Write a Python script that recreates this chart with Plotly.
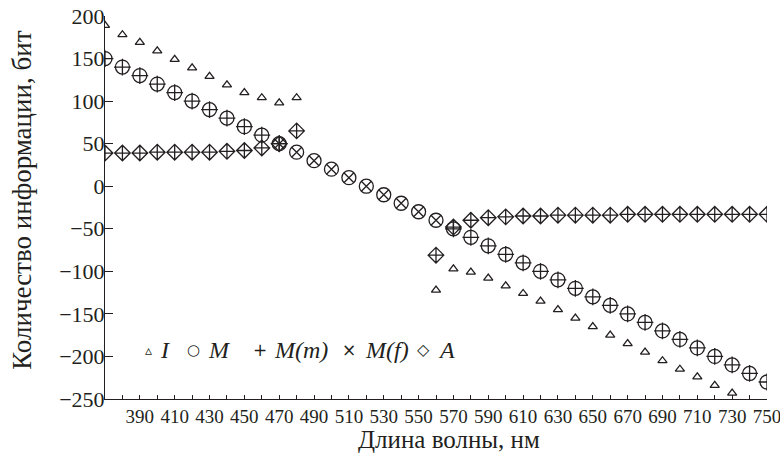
import plotly.graph_objects as go

# ---- data ----
wavelength = [370, 380, 390, 400, 410, 420, 430, 440, 450, 460,
              470, 480, 490, 500, 510, 520, 530, 540, 550, 560,
              570, 580, 590, 600, 610, 620, 630, 640, 650, 660,
              670, 680, 690, 700, 710, 720, 730, 740, 750]

I_vals = [189, 178, 169, 159, 149, 139, 129, 119, 110, 104,
          98, 104, None, None, None, None, None, None, None, -122,
          -97, -101, -108, -117, -126, -135, -145, -155, -165, -175,
          -185, -195, -205, -215, -224, -234, -243, None, None]

M_vals = [150, 140, 130, 120, 110, 100, 90, 80, 70, 60,
          50, 40, 30, 20, 10, 0, -10, -20, -30, -40,
          -50, -60, -70, -80, -90, -100, -110, -120, -130, -140,
          -150, -160, -170, -180, -190, -200, -210, -220, -230]

Mm_vals = [150, 140, 130, 120, 110, 100, 90, 80, 70, 60,
           50, None, None, None, None, None, None, None, None, None,
           -50, -60, -70, -80, -90, -100, -110, -120, -130, -140,
           -150, -160, -170, -180, -190, -200, -210, -220, -230]

Mf_vals = [None, None, None, None, None, None, None, None, None, None,
           50, 40, 30, 20, 10, 0, -10, -20, -30, -40,
           None, None, None, None, None, None, None, None, None, None,
           None, None, None, None, None, None, None, None, None]

A_vals = [39, 39, 39, 40, 40, 40, 40, 41, 42, 45,
          50, 65, None, None, None, None, None, None, None, -81,
          -48, -40, -37, -36, -35, -35, -34, -34, -34, -34,
          -33, -33, -33, -33, -33, -33, -33, -33, -33]

x_tick_vals = [390, 410, 430, 450, 470, 490, 510, 530, 550, 570,
               590, 610, 630, 650, 670, 690, 710, 730, 750]
x_tick_labels = [str(v) for v in x_tick_vals]

series_names = ["I", "M", "M(m)", "M(f)", "A"]
legend_glyphs = ["\u25b5", "\u25cb", "+", "\u00d7", "\u25c7"]
x_title = "Длина волны, нм"
y_title = "Количество информации, бит"

BLACK = "#231f20"
FONT = "Liberation Serif, Times New Roman, serif"

fig = go.Figure()

fig.add_trace(go.Scatter(x=wavelength, y=M_vals, mode="markers", name="M", showlegend=False,
                         marker=dict(symbol="circle-open", size=14, color=BLACK,
                                     line=dict(width=1.3, color=BLACK))))
fig.add_trace(go.Scatter(x=wavelength, y=Mm_vals, mode="markers", name="M(m)", showlegend=False,
                         marker=dict(symbol="cross-thin-open", size=12, color=BLACK,
                                     line=dict(width=1.3, color=BLACK))))
fig.add_trace(go.Scatter(x=wavelength, y=Mf_vals, mode="markers", name="M(f)", showlegend=False,
                         marker=dict(symbol="x-thin-open", size=10, color=BLACK,
                                     line=dict(width=1.3, color=BLACK))))
fig.add_trace(go.Scatter(x=wavelength, y=A_vals, mode="markers", name="A", showlegend=False,
                         marker=dict(symbol="diamond-cross-open", size=12, color=BLACK,
                                     line=dict(width=1.3, color=BLACK))))
fig.add_trace(go.Scatter(x=wavelength, y=I_vals, mode="markers", name="I", showlegend=False,
                         marker=dict(symbol="triangle-up-open", size=8, color=BLACK,
                                     line=dict(width=1.3, color=BLACK))))

# legend drawn as text (glyph + italic name), positioned in paper coordinates
glyph_x = [0.065, 0.1344, 0.2341, 0.3686, 0.4804]
glyph_font = [("DejaVu Sans", 14), ("DejaVu Sans", 15), ("DejaVu Sans", 17),
              ("DejaVu Sans", 17), ("DejaVu Sans", 16)]
name_x = [0.0801, 0.1526, 0.2523, 0.3897, 0.5]
legend_y = 0.128
annotations = []
for g, n, gx, nx, (gf, gs) in zip(legend_glyphs, series_names, glyph_x, name_x, glyph_font):
    annotations.append(dict(xref="paper", yref="paper", x=gx, y=legend_y, text=g,
                            showarrow=False, xanchor="center", yanchor="middle",
                            font=dict(family=gf, size=gs, color=BLACK)))
    annotations.append(dict(xref="paper", yref="paper", x=nx, y=legend_y, text="<i>" + n + "</i>",
                            showarrow=False, xanchor="left", yanchor="middle",
                            font=dict(family=FONT, size=24, color=BLACK)))
annotations.append(dict(xref="paper", yref="paper", x=0.52, y=-0.107, text=x_title,
                        showarrow=False, xanchor="center", yanchor="middle",
                        font=dict(family=FONT, size=25, color=BLACK)))
annotations.append(dict(xref="paper", yref="paper", x=-0.1254, y=0.52, text=y_title,
                        textangle=-90, showarrow=False, xanchor="center", yanchor="middle",
                        font=dict(family=FONT, size=27, color=BLACK)))

fig.update_layout(
    width=780, height=460,
    margin=dict(l=105, r=13, t=16, b=61),
    paper_bgcolor="white", plot_bgcolor="white",
    font=dict(family=FONT, size=19, color=BLACK),
    showlegend=False,
    annotations=annotations,
    xaxis=dict(range=[370, 750], tickmode="array", tickvals=x_tick_vals, ticktext=x_tick_labels,
               ticks="inside", ticklen=4, tickcolor=BLACK, showline=True, linecolor=BLACK,
               linewidth=1, showgrid=False, zeroline=False, automargin=False,
               ticklabeloverflow="allow",
               minor=dict(tickmode="linear", tick0=370, dtick=10, ticks="inside", ticklen=4,
                          tickcolor=BLACK, showgrid=False),
               tickfont=dict(family=FONT, size=19)),
    yaxis=dict(range=[-250, 200], tickmode="linear", tick0=-250, dtick=50, ticks="inside",
               ticklen=8, tickcolor=BLACK, showline=True, linecolor=BLACK, linewidth=1,
               showgrid=False, zeroline=False, automargin=False, ticklabelstandoff=-5,
               tickfont=dict(family=FONT, size=22)),
)

fig.write_html("out.html", config={"displayModeBar": False},
               post_script="document.body.style.margin='0px';document.body.style.overflow='hidden';")
